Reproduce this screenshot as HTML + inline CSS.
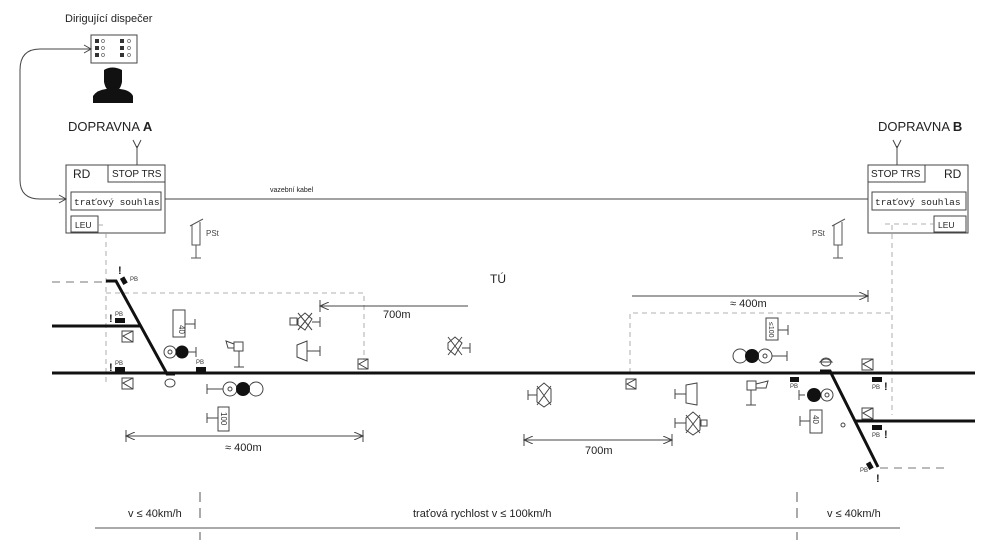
<!DOCTYPE html>
<html><head><meta charset="utf-8"><style>
html,body{margin:0;padding:0;background:#fff;}
svg{display:block;font-family:"Liberation Sans",sans-serif;}
</style></head><body>
<svg width="994" height="554" viewBox="0 0 994 554" xmlns="http://www.w3.org/2000/svg">
<defs>
<marker id="ar" markerWidth="10" markerHeight="8" refX="9" refY="4" orient="auto"><path d="M0,0 L9,4 L0,8" fill="none" stroke="#444" stroke-width="1"/></marker>
<marker id="al" markerWidth="10" markerHeight="8" refX="1" refY="4" orient="auto"><path d="M10,0 L1,4 L10,8" fill="none" stroke="#444" stroke-width="1"/></marker>
</defs>
<g fill="#222">
<text x="65" y="22" font-size="11">Dirigující dispečer</text>
<text x="68" y="131" font-size="13">DOPRAVNA <tspan font-weight="bold">A</tspan></text>
<text x="878" y="131" font-size="13">DOPRAVNA <tspan font-weight="bold">B</tspan></text>
<text x="490" y="283" font-size="12">TÚ</text>
<text x="270" y="192" font-size="7">vazební kabel</text>
</g>
<!-- dispatcher panel -->
<rect x="91" y="35" width="46" height="28" fill="#fff" stroke="#444"/>
<g fill="#333"><rect x="95" y="39" width="4" height="4"/><rect x="95" y="46" width="4" height="4"/><rect x="95" y="53" width="4" height="4"/><rect x="120" y="39" width="4" height="4"/><rect x="120" y="46" width="4" height="4"/><rect x="120" y="53" width="4" height="4"/></g>
<g fill="none" stroke="#666" stroke-width=".7"><circle cx="103" cy="41" r="1.5"/><circle cx="103" cy="48" r="1.5"/><circle cx="103" cy="55" r="1.5"/><circle cx="129" cy="41" r="1.5"/><circle cx="129" cy="48" r="1.5"/><circle cx="129" cy="55" r="1.5"/></g>
<path d="M104,70 Q112,65 122,70 L122,82 Q120,92 113,92 Q106,92 104,82 Z" fill="#111"/>
<path d="M93,103 L93,96 Q97,90 106,89 L120,89 Q130,90 133,96 L133,103 Z" fill="#111"/>
<!-- curve -->
<path d="M91,49 L40,49 Q20,49 20,70 L20,180 Q20,199 40,199 L66,199" fill="none" stroke="#444" stroke-width="1"/>
<path d="M84,45 L91,49 L84,53" fill="none" stroke="#444"/>
<path d="M59,195 L66,199 L59,203" fill="none" stroke="#444"/>
<!-- antennas -->
<g fill="none" stroke="#444"><path d="M137,165 L137,146 M133,140 L137,148 L141,140"/><path d="M897,165 L897,146 M893,140 L897,148 L901,140"/></g>
<!-- box A -->
<g fill="none" stroke="#444" stroke-width="1">
<rect x="66" y="165" width="99" height="68"/>
<path d="M108,165 L108,182 L165,182"/>
<rect x="71" y="192" width="90" height="18"/>
<rect x="71" y="216" width="27" height="16"/>
<rect x="868" y="165" width="100" height="68"/>
<path d="M868,182 L925,182 L925,165"/>
<rect x="872" y="192" width="94" height="18"/>
<rect x="934" y="216" width="32" height="16"/>
<line x1="165" y1="199" x2="868" y2="199"/>
</g>
<g fill="#222" font-size="10">
<text x="73" y="178" font-size="12">RD</text>
<text x="112" y="177">STOP TRS</text>
<text x="74" y="205" font-family="Liberation Mono" font-size="9.5">traťový souhlas</text>
<text x="75" y="228" font-size="8.5">LEU</text>
<text x="944" y="178" font-size="12">RD</text>
<text x="871" y="177">STOP TRS</text>
<text x="875" y="205" font-family="Liberation Mono" font-size="9.5">traťový souhlas</text>
<text x="938" y="228" font-size="8.5">LEU</text>
</g>
<!-- PSt -->
<g fill="none" stroke="#555">
<path d="M192,225 L192,245 L200,245 L200,222 M190,226 L203,219 M196,245 L196,258 M191,258 L201,258"/>
<path d="M834,225 L834,245 L842,245 L842,222 M832,226 L845,219 M838,245 L838,258 M833,258 L843,258"/>
</g>
<text x="206" y="236" font-size="8" fill="#444">PSt</text>
<text x="812" y="236" font-size="8" fill="#444">PSt</text>
<!-- dashed -->
<g fill="none" stroke="#999" stroke-dasharray="5,4" stroke-width=".8">
<path d="M106,233 L106,385"/><path d="M98,225 L106,225"/>
<path d="M106,293 L364,293 L364,360"/>
<path d="M630,373 L630,313 L892,313"/>
<path d="M892,225 L892,415 M885,224 L934,224"/>
</g>
<g fill="none" stroke="#777" stroke-dasharray="8,6" stroke-width="1">
<path d="M52,282 L106,282"/><path d="M880,468 L945,468"/>
</g>
<!-- tracks -->
<g fill="none" stroke="#111" stroke-width="3">
<line x1="52" y1="373" x2="975" y2="373"/>
<path d="M52,326 L140,326"/>
<path d="M106,281 L116,281 L167,374 L175,374"/>
<path d="M820,371 L830,371 L878,467"/>
<path d="M855,421 L975,421"/>
</g>
<!-- dimensions -->
<g stroke="#444" stroke-width="1" fill="none">
<line x1="320" y1="306" x2="468" y2="306" marker-start="url(#al)"/><path d="M320,300 L320,312"/>
<line x1="632" y1="296" x2="868" y2="296" marker-end="url(#ar)"/><path d="M868,290 L868,302"/>
<line x1="126" y1="436" x2="363" y2="436" marker-start="url(#al)" marker-end="url(#ar)"/><path d="M126,430 L126,442 M363,430 L363,442"/>
<line x1="524" y1="440" x2="672" y2="440" marker-start="url(#al)" marker-end="url(#ar)"/><path d="M524,434 L524,446 M672,434 L672,446"/>
</g>
<g fill="#222" font-size="11">
<text x="383" y="318">700m</text>
<text x="730" y="307">≈ 400m</text>
<text x="225" y="451">≈ 400m</text>
<text x="585" y="454">700m</text>
</g>
<!-- symbols left -->
<g stroke="#444" stroke-width="1" fill="none">
<rect x="122" y="331" width="11" height="11"/><path d="M133,331 L123,336 L133,342"/>
<rect x="122" y="378" width="11" height="11"/><path d="M133,378 L123,383 L133,389"/>
<rect x="173" y="310" width="12" height="27"/><path d="M185,324 L195,324 M195,319 L195,329"/>
<circle cx="170" cy="352" r="6"/><circle cx="170" cy="352" r="2"/><path d="M186,352 L196,352 M196,347 L196,357"/>
<rect x="234" y="342" width="9" height="9"/><path d="M234,344 L226,341 L228,348 L234,348 M239,351 L239,367 M234,367 L244,367"/>
<path d="M298,319 L305,313 L312,319 L305,330 L298,325 Z M298,313 L312,330 M312,313 L298,330 M312,322 L320,322 M320,317 L320,327"/>
<rect x="290" y="318" width="7" height="7"/>
<path d="M297,345 L307,341 L307,361 L297,357 Z M307,351 L320,351 M320,346 L320,356"/>
<rect x="358" y="359" width="10" height="10"/><path d="M368,359 L359,364 L368,369"/>
<path d="M448,343 L455,337 L462,343 L455,355 L448,349 Z M448,337 L462,355 M462,337 L448,355 M462,348 L470,348 M470,343 L470,353"/>
<circle cx="230" cy="389" r="7"/><circle cx="230" cy="389" r="2"/><circle cx="256" cy="389" r="7"/><path d="M207,389 L223,389 M207,384 L207,394"/>
<rect x="218" y="407" width="11" height="24"/><path d="M207,418 L218,418 M207,413 L207,423"/>
<ellipse cx="170" cy="383" rx="5" ry="4"/>
</g>
<circle cx="182" cy="352" r="6.5" fill="#111"/>
<circle cx="243" cy="389" r="7" fill="#111"/>
<g fill="#111"><rect x="115" y="318" width="10" height="5"/><rect x="115" y="367" width="10" height="5"/><rect x="196" y="367" width="10" height="5"/><rect x="121" y="278" width="7" height="5" transform="rotate(60 124 280)"/></g>
<g font-size="6" fill="#333"><text x="115" y="316">PB</text><text x="115" y="365">PB</text><text x="196" y="364">PB</text><text x="130" y="281">PB</text></g>
<g font-size="11" font-weight="bold" fill="#222"><text x="109" y="322">!</text><text x="109" y="371">!</text><text x="118" y="274">!</text></g>
<text x="179" y="325" font-size="8" fill="#333" transform="rotate(90 179 325)">40</text>
<text x="221" y="412" font-size="8" fill="#333" transform="rotate(90 221 412)">100</text>
<!-- symbols right -->
<g stroke="#444" stroke-width="1" fill="none">
<rect x="626" y="379" width="10" height="10"/><path d="M636,379 L627,384 L636,389"/>
<path d="M537,389 L544,383 L551,389 L551,402 L544,407 L537,402 Z M537,386 L551,405 M551,386 L537,405 M528,395 L537,395 M528,390 L528,400"/>
<path d="M686,385 L697,383 L697,405 L686,403 Z M675,394 L686,394 M675,389 L675,399"/>
<path d="M686,418 L693,412 L700,418 L700,430 L693,435 L686,430 Z M686,415 L700,433 M700,415 L686,433 M675,423 L686,423 M675,418 L675,428"/>
<rect x="701" y="420" width="6" height="6"/>
<rect x="766" y="318" width="12" height="22"/><path d="M778,330 L788,330 M788,325 L788,335"/>
<circle cx="740" cy="356" r="7"/><circle cx="765" cy="356" r="7"/><circle cx="765" cy="356" r="2"/><path d="M772,356 L787,356 M787,351 L787,361"/>
<rect x="747" y="381" width="9" height="9"/><path d="M756,384 L768,381 L766,388 L756,388 M751,390 L751,405 M746,405 L756,405"/>
<circle cx="827" cy="395" r="6"/><circle cx="827" cy="395" r="2"/><path d="M799,395 L805,395 M799,390 L799,400"/>
<rect x="810" y="410" width="12" height="23"/><path d="M800,421 L810,421 M800,416 L800,426"/>
<path d="M820,362 Q826,356 832,362 Z" /><ellipse cx="826" cy="362" rx="5" ry="4"/>
<rect x="862" y="359" width="11" height="11"/><path d="M873,359 L863,364 L873,370"/>
<rect x="862" y="408" width="11" height="11"/><path d="M873,408 L863,413 L873,419"/>
<circle cx="843" cy="425" r="2"/>
</g>
<circle cx="814" cy="395" r="7" fill="#111"/>
<circle cx="752" cy="356" r="7" fill="#111"/>
<g fill="#111"><rect x="790" y="377" width="9" height="5"/><rect x="872" y="377" width="10" height="5"/><rect x="872" y="425" width="10" height="5"/><rect x="867" y="463" width="7" height="5" transform="rotate(60 870 465)"/></g>
<g font-size="6" fill="#333"><text x="790" y="388">PB</text><text x="872" y="389">PB</text><text x="872" y="437">PB</text><text x="860" y="472">PB</text></g>
<g font-size="11" font-weight="bold" fill="#222"><text x="884" y="390">!</text><text x="884" y="438">!</text><text x="876" y="482">!</text></g>
<text x="769" y="322" font-size="7" fill="#333" transform="rotate(90 769 322)">≤100</text>
<text x="813" y="415" font-size="8" fill="#333" transform="rotate(90 813 415)">40</text>
<!-- bottom speed -->
<g stroke="#555" stroke-width="1">
<line x1="95" y1="528" x2="900" y2="528"/>
<path d="M200,492 L200,502 M200,508 L200,518 M200,532 L200,540"/>
<path d="M797,492 L797,502 M797,508 L797,518 M797,532 L797,540"/>
</g>
<g font-size="11" fill="#222">
<text x="128" y="517">v ≤ 40km/h</text>
<text x="413" y="517">traťová  rychlost  v ≤ 100km/h</text>
<text x="827" y="517">v ≤ 40km/h</text>
</g>
</svg>
</body></html>
